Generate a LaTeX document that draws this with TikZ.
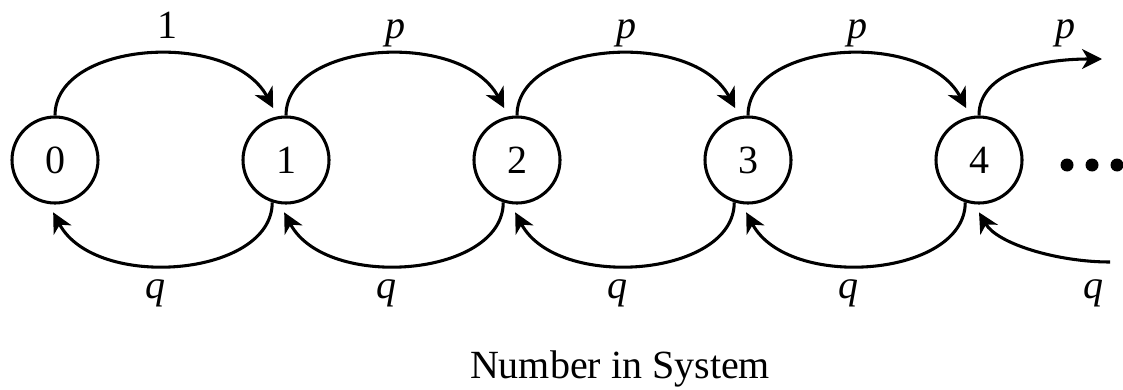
\documentclass[tikz,border=0pt]{standalone}
\usepackage{fontspec}
\setmainfont{Liberation Serif}
\usetikzlibrary{arrows.meta}
\begin{document}
\begin{tikzpicture}[x=0.75pt,y=0.75pt,
  state/.style={circle,draw,line width=2.3pt,minimum size=64.5pt,inner sep=0pt,
    font=\fontsize{30}{36}\selectfont},
  lbl/.style={font=\fontsize{30}{36}\selectfont\itshape,inner sep=0pt,anchor=base},
  txt/.style={font=\fontsize{30}{36}\selectfont,inner sep=0pt,anchor=base},
  arc/.style={line width=2.3pt,-{Stealth[length=15pt,width=15pt,inset=4.5pt]}},
  gap/.style={shorten >=7pt},
  dot/.style={fill=black}]
\useasboundingbox (0,0) rectangle (1123,-389);
\foreach \i in {0,...,4} \node[state] (n\i) at (55+231*\i,-160) {\i};
% upper arcs
\foreach \i/\j in {0/1,1/2,2/3,3/4}
  \draw[arc,gap] (n\i.north) to[out=90,in=118,out distance=56pt,in distance=74pt] (n\j.101);
% lower arcs
\foreach \i/\j in {0/1,1/2,2/3,3/4}
  \draw[arc,gap] (n\j.252) to[out=270,in=298,out distance=56pt,in distance=74pt] (n\i.262);
% open ends
\coordinate (pend) at (1102,-59);
\coordinate (qstart) at (1110,-262);
\draw[arc] (n4.north) to[out=90,in=180,out distance=32pt,in distance=48pt] (pend);
\draw[arc,gap] (qstart) to[out=180,in=300,out distance=40pt,in distance=34pt] (n4.264);
% labels
\node[txt] (l01) at (167,-38) {1};
\foreach \i in {1,2,3} \node[lbl] (p\i) at (55+231*\i+115.5-6,-38) {p};
\node[lbl] (p4) at (1065,-38) {p};
\foreach \i in {0,1,2,3} \node[lbl] (q\i) at (55+231*\i+115.5-15,-298) {q};
\node[lbl] (q4) at (1093,-298) {q};
% dots
\fill[dot] (1067,-165) circle (6.5);
\fill[dot] (1092,-165) circle (6.5);
\fill[dot] (1117,-165) circle (6.5);
\node[txt] (title) at (620,-378) {Number in System};
\end{tikzpicture}
\end{document}
